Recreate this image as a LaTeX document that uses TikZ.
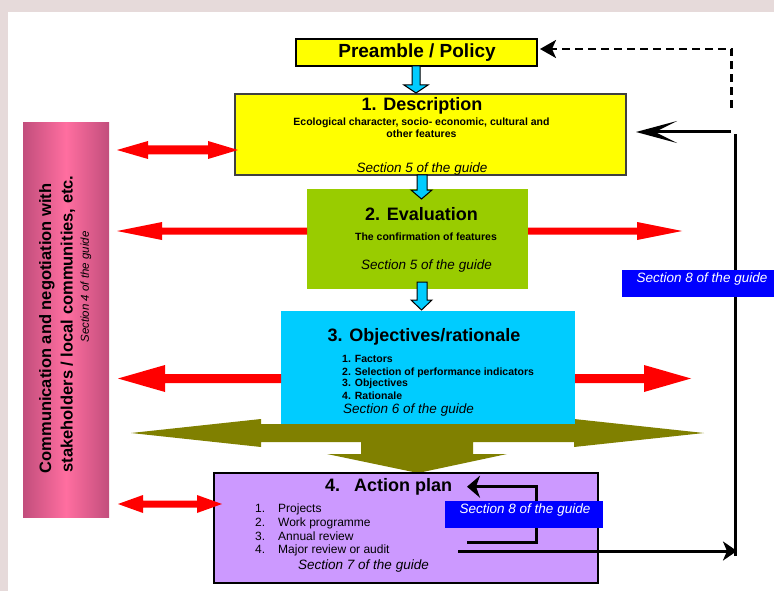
\documentclass[tikz,border=0pt]{standalone}
\usepackage{fontspec}
\setmainfont{Liberation Sans}
\usetikzlibrary{arrows.meta}
\definecolor{bgc}{HTML}{E6DADA}
\definecolor{yel}{HTML}{FFFF00}
\definecolor{grn}{HTML}{99CC00}
\definecolor{cya}{HTML}{00CCFF}
\definecolor{pur}{HTML}{CC99FF}
\definecolor{blu}{HTML}{0000FF}
\definecolor{redA}{HTML}{FF0000}
\definecolor{oli}{HTML}{808000}
\definecolor{pinkedge}{HTML}{C24E7C}
\definecolor{pinkmid}{HTML}{FF6EA0}
\definecolor{dgray}{HTML}{404040}
\tikzset{
  boxstyle/.style={rectangle, inner sep=0pt, outer sep=0pt, anchor=north west},
  titletext/.style={font=\fontsize{18}{20}\selectfont\bfseries, inner sep=0pt, anchor=base},
  smallbold/.style={font=\fontsize{10.5}{12}\selectfont\bfseries, inner sep=0pt, anchor=base},
  listbold/.style={font=\fontsize{10.5}{12}\selectfont\bfseries, inner sep=0pt, anchor=base west},
  guide/.style={font=\fontsize{13.5}{15}\selectfont\itshape, inner sep=0pt, anchor=base},
  guidew/.style={font=\fontsize{13.5}{15}\selectfont\itshape, inner sep=0pt, anchor=base west},
  itemtext/.style={font=\fontsize{12}{14}\selectfont, inner sep=0pt, anchor=base west},
  fbline/.style={line width=3pt, black},
  blockarrow/.style={fill=cya, draw=black, line width=1pt, line join=miter},
  redarrow/.style={fill=redA},
  sidetext/.style={font=\fontsize{16.5}{18}\selectfont\bfseries, inner sep=0pt, rotate=90},
}
\begin{document}
\begin{tikzpicture}[x=1pt,y=-1pt]
\useasboundingbox (0,0) rectangle (774,591);
\fill[bgc] (0,0) rectangle (774,591);
\fill[white] (8,12) rectangle (774,591);

% side bar
\shade[left color=pinkedge, right color=pinkedge, middle color=pinkmid] (23,123) rectangle (109,517);
\node[sidetext] (side1) at (47,328.5) {Communication and negotiation with};
\node[sidetext] (side2) at (68,324) {stakeholders / local communities, etc.};
\node[font=\fontsize{11.5}{13}\selectfont\itshape, inner sep=0pt, rotate=90] (side3) at (86,287) {Section 4 of the guide};

% olive triple arrow
\fill[oli] (131,433) -- (261,419) -- (261,424) -- (574,424) -- (574,419) -- (704,433)
  -- (574,447) -- (574,442) -- (473,442) -- (473,454) -- (507,454) -- (418,473)
  -- (327,454) -- (361,454) -- (361,442) -- (261,442) -- (261,447) -- cycle;

% boxes
\node[boxstyle, draw=black, line width=1.2pt, fill=yel, minimum width=241pt, minimum height=27pt] (pre) at (296,39) {};
\node[boxstyle, draw=dgray, line width=1.2pt, fill=yel, minimum width=391pt, minimum height=81pt] (desc) at (235,94) {};
\node[boxstyle, fill=grn, minimum width=221pt, minimum height=100pt] (eval) at (307,189) {};
\node[boxstyle, fill=cya, minimum width=294pt, minimum height=113pt] (obj) at (281,311) {};
\node[boxstyle, draw=black, line width=1.2pt, fill=pur, minimum width=384pt, minimum height=110pt] (act) at (214,473) {};

% blue block arrows
\draw[blockarrow] (412,66) -- (420,66) -- (420,85) -- (428,85) -- (416,93) -- (404,85) -- (412,85) -- cycle;
\draw[blockarrow] (417,175) -- (427,175) -- (427,190) -- (432,190) -- (421.5,199) -- (411,190) -- (417,190) -- cycle;
\draw[blockarrow] (417,282) -- (427,282) -- (427,300) -- (432,300) -- (421.5,310) -- (411,300) -- (417,300) -- cycle;

% red arrows
\fill[redarrow] (117,150) -- (148,141) -- (148,145.5) -- (208,145.5) -- (208,141) -- (238,150)
  -- (208,159) -- (208,154.5) -- (148,154.5) -- (148,159) -- cycle;
\fill[redarrow] (307,227.5) -- (162,227.5) -- (162,222) -- (117,231) -- (162,240) -- (162,234.5) -- (307,234.5) -- cycle;
\fill[redarrow] (528,227.5) -- (637,227.5) -- (637,222) -- (682,231) -- (637,240) -- (637,234.5) -- (528,234.5) -- cycle;
\fill[redarrow] (281,374) -- (165,374) -- (165,365) -- (118,378.5) -- (165,392) -- (165,383) -- (281,383) -- cycle;
\fill[redarrow] (575,374) -- (644,374) -- (644,365) -- (691,378.5) -- (644,392) -- (644,383) -- (575,383) -- cycle;
\fill[redarrow] (118,504) -- (143,495) -- (143,500.5) -- (197,500.5) -- (197,495) -- (222,504)
  -- (197,513) -- (197,507.5) -- (143,507.5) -- (143,513) -- cycle;

% texts
\node[font=\fontsize{19}{21}\selectfont\bfseries, inner sep=0pt, anchor=base] (tpre) at (417,57.5) {Preamble / Policy};

\node[titletext] (tdesc) at (422,110.7) {1. Description};
\node[smallbold] (tdesc1) at (421.5,125.7) {Ecological character, socio- economic, cultural and};
\node[smallbold] (tdesc2) at (421.5,137.5) {other features};
\node[guide] (gdesc) at (422,173) {Section 5 of the guide};

\node[titletext] (teval) at (421.5,220) {2. Evaluation};
\node[smallbold] (teval1) at (426,240) {The confirmation of features};
\node[guide] (geval) at (426.5,269) {Section 5 of the guide};

\node[titletext] (tobj) at (424,341.7) {3. Objectives/rationale};
\node[listbold] (o1) at (342,362.3) {1. Factors};
\node[listbold] (o2) at (342,375) {2. Selection of performance indicators};
\node[listbold] (o3) at (342,386.7) {3. Objectives};
\node[listbold] (o4) at (342,399.3) {4. Rationale};
\node[guidew] (gobj) at (343,413.3) {Section 6 of the guide};

\node[font=\fontsize{18}{20}\selectfont\bfseries, inner sep=0pt, anchor=base west] (tact) at (325,491) {4.\hspace{14pt}Action plan};
\node[itemtext] (n1) at (255,512.7) {1.};
\node[itemtext] (n2) at (255,526) {2.};
\node[itemtext] (n3) at (255,540) {3.};
\node[itemtext] (n4) at (255,553.3) {4.};
\node[itemtext] (a1) at (278,512.7) {Projects};
\node[itemtext] (a2) at (278,526) {Work programme};
\node[itemtext] (a3) at (278,540) {Annual review};
\node[itemtext] (a4) at (278,553.3) {Major review or audit};
\node[guidew] (gact) at (298,569.3) {Section 7 of the guide};

% inner loop
\coordinate (lpA) at (467,542.7);
\coordinate (lpB) at (536,542.7);
\coordinate (lpC) at (536,486.7);
\coordinate (lpD) at (467,486.7);
\draw[fbline, line join=miter, -{Stealth[length=13pt,width=22pt,inset=4pt]}] (lpA) -- (lpB) -- (lpC) -- (lpD);

% big feedback loop
\coordinate (fbS) at (458,551);
\coordinate (fbC) at (737,551);
\draw[fbline, -{Stealth[length=14pt,width=19pt,inset=4pt]}] (fbS) -- (fbC);
\coordinate (fbV1) at (735.5,556);
\coordinate (fbV2) at (735.5,134);
\draw[fbline] (fbV1) -- (fbV2);
\coordinate (fbT) at (731,132);
\coordinate (fbTip) at (636,132);
\draw[fbline, -{Stealth[length=41pt,width=22pt,inset=22pt]}] (fbT) -- (fbTip);

% dashed feedback
\coordinate (dsA) at (731.5,108);
\coordinate (dsTip) at (540,49);
\draw[line width=2.5pt, dash pattern=on 8pt off 5pt, -{Stealth[length=16pt,width=18pt,inset=4pt]}] (dsA) |- (dsTip);

% blue labels
\node[boxstyle, fill=blu, minimum width=152pt, minimum height=27pt] (lab1) at (622,270) {};
\node[guide, text=white] (tlab1) at (702,282.7) {Section 8 of the guide};
\node[boxstyle, fill=blu, minimum width=158pt, minimum height=27pt] (lab2) at (445,501) {};
\node[guide, text=white] (tlab2) at (525,513.3) {Section 8 of the guide};
\end{tikzpicture}
\end{document}
